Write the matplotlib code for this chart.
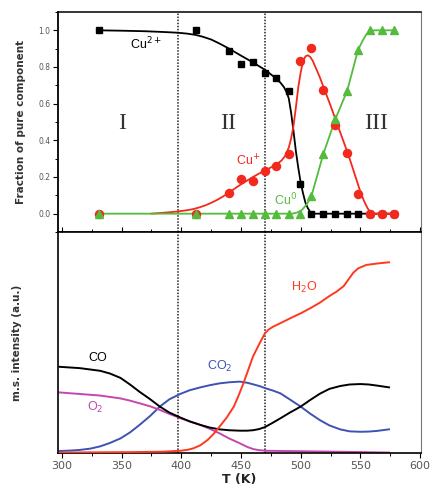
import matplotlib
matplotlib.use("Agg")
import matplotlib.pyplot as plt
from matplotlib.ticker import MultipleLocator

# ---------------- data: top panel (fraction of pure component) ----------------
T_pts = [331, 412, 440, 450, 460, 470, 479, 490, 499.5, 509, 519, 529, 539, 548, 558, 568, 578]
cu2_pts = [1.0, 1.0, 0.886, 0.814, 0.825, 0.765, 0.741, 0.671, 0.163, 0.0, 0.0, 0.0, 0.0, 0.0, 0.0, 0.0, 0.0]
cu1_pts = [0.0, 0.0, 0.114, 0.19, 0.177, 0.235, 0.259, 0.327, 0.832, 0.904, 0.675, 0.485, 0.331, 0.108, 0.0, 0.0, 0.0]
cu0_pts = [0.0, 0.0, 0.0, 0.0, 0.0, 0.0, 0.0, 0.0, 0.0, 0.096, 0.326, 0.515, 0.671, 0.892, 1.0, 1.0, 1.0]

# fitted curves
cu2_fit_T = [331, 350, 370, 385, 397, 405, 412, 418, 425, 432, 440, 450, 460, 470, 478, 483, 486, 488,
             490, 492, 494, 496, 498, 500, 502, 504, 506, 508, 511, 578]
cu2_fit_v = [1.0, 0.998, 0.995, 0.991, 0.987, 0.982, 0.975, 0.965, 0.95, 0.928, 0.9, 0.862, 0.825, 0.785,
             0.745, 0.715, 0.69, 0.665, 0.63, 0.55, 0.45, 0.34, 0.25, 0.17, 0.11, 0.06, 0.03, 0.01, 0.0, 0.0]
cu1_fit_T = [375, 387, 397, 405, 410, 415, 420, 425, 430, 435, 440, 445, 450, 455, 460, 465, 470, 475, 480,
             484, 487, 490, 492, 494, 496, 498, 500, 502, 504, 506, 508, 510, 513, 516, 520, 525, 530, 535,
             540, 545, 550, 553, 556, 558, 560, 578]
cu1_fit_v = [0.0, 0.006, 0.012, 0.019, 0.025, 0.034, 0.045, 0.059, 0.075, 0.094, 0.115, 0.138, 0.16, 0.18,
             0.2, 0.218, 0.235, 0.252, 0.27, 0.29, 0.315, 0.36, 0.41, 0.48, 0.58, 0.69, 0.77, 0.83, 0.858,
             0.864, 0.855, 0.835, 0.79, 0.745, 0.675, 0.59, 0.5, 0.41, 0.32, 0.22, 0.12, 0.07, 0.03, 0.012,
             0.0, 0.0]
cu0_fit_T = [331, 493, 497, 501, 505, 509, 519, 529, 539, 548, 552, 555, 558, 562, 578]
cu0_fit_v = [0.0, 0.0, 0.006, 0.02, 0.05, 0.096, 0.326, 0.515, 0.671, 0.892, 0.945, 0.978, 0.995, 1.0, 1.0]

# ---------------- data: bottom panel (m.s. intensity, a.u.) ----------------
co_T = [298, 315, 332, 340, 349, 357, 365, 374, 382, 390, 399, 407, 416, 424, 432, 440, 449, 455, 460,
        465, 470, 476, 483, 491, 500, 508, 516, 524, 533, 541, 550, 557, 564, 574]
co_v = [0.39, 0.384, 0.372, 0.36, 0.34, 0.31, 0.277, 0.243, 0.21, 0.183, 0.161, 0.143, 0.127, 0.115,
        0.107, 0.103, 0.101, 0.101, 0.103, 0.108, 0.117, 0.135, 0.157, 0.183, 0.21, 0.24, 0.268, 0.29,
        0.303, 0.31, 0.312, 0.31, 0.305, 0.297]
co2_T = [298, 307, 315, 324, 332, 340, 349, 357, 365, 374, 382, 390, 399, 407, 416, 424, 432, 440, 449,
         455, 460, 466, 471, 477, 483, 491, 500, 508, 516, 524, 533, 541, 550, 557, 564, 574]
co2_v = [0.009, 0.011, 0.014, 0.02, 0.03, 0.045, 0.066, 0.093, 0.127, 0.168, 0.21, 0.243, 0.267, 0.284,
         0.297, 0.307, 0.315, 0.32, 0.323, 0.318, 0.311, 0.302, 0.292, 0.282, 0.27, 0.242, 0.21, 0.178,
         0.149, 0.125, 0.107, 0.098, 0.096, 0.097, 0.1, 0.107]
o2_T = [298, 315, 332, 349, 357, 365, 374, 382, 390, 399, 407, 416, 424, 432, 440, 449, 455, 460, 465,
        471, 500, 540, 574]
o2_v = [0.274, 0.267, 0.26, 0.247, 0.237, 0.225, 0.211, 0.195, 0.177, 0.158, 0.143, 0.127, 0.109, 0.089,
        0.066, 0.044, 0.028, 0.018, 0.013, 0.01, 0.008, 0.005, 0.002]
h2o_T = [298, 359, 385, 399, 405, 410, 416, 422, 427, 432, 438, 444, 448, 452, 456, 460, 465, 470, 473,
         477, 484, 491, 500, 508, 516, 524, 530, 536, 540, 544, 548, 555, 565, 574]
h2o_v = [0.002, 0.004, 0.006, 0.01, 0.014, 0.021, 0.035, 0.059, 0.086, 0.119, 0.16, 0.21, 0.26, 0.315,
         0.375, 0.436, 0.49, 0.541, 0.558, 0.572, 0.59, 0.609, 0.632, 0.655, 0.68, 0.71, 0.73, 0.755,
         0.785, 0.815, 0.835, 0.851, 0.858, 0.863]

region_bounds = [397, 470]
region_labels = ["I", "II", "III"]
region_label_T = [350, 439, 563]
xticks = [300, 350, 400, 450, 500, 550, 600]

# ---------------- styles ----------------
BLACK = "#000000"
RED = "#f2291c"
GREEN = "#55bb3c"
BLUE = "#3d52b4"
MAG = "#c447ad"
H2O_RED = "#ff3820"
TICKC = "#555555"

plt.rcParams['font.family'] = ['DejaVu Sans']

fig = plt.figure(figsize=(4.30, 4.91), dpi=100)
L, R = 58 / 430, 421 / 430
ax1 = fig.add_axes([L, 1 - 232 / 491, R - L, (232 - 12) / 491])
ax2 = fig.add_axes([L, 1 - 453 / 491, R - L, (453 - 232) / 491])

xlim = (296.7, 600.8)

# ---- top panel ----
ax1.plot(cu2_fit_T, cu2_fit_v, color=BLACK, lw=1.3, zorder=2)
ax1.plot(cu1_fit_T, cu1_fit_v, color=RED, lw=1.3, zorder=2)
ax1.plot(cu0_fit_T, cu0_fit_v, color=GREEN, lw=1.3, zorder=2)
ax1.plot(T_pts, cu2_pts, ls="none", marker="s", ms=5, color=BLACK, zorder=3)
ax1.plot(T_pts, cu1_pts, ls="none", marker="o", ms=5.8, color=RED, zorder=4)
ax1.plot(T_pts, cu0_pts, ls="none", marker="^", ms=5.5, color=GREEN, zorder=5)

ax1.text(370, 0.925, r"Cu$^{2+}$", color=BLACK, fontsize=9, ha="center", va="center",
         family="Liberation Sans")
ax1.text(456, 0.285, r"Cu$^{+}$", color=RED, fontsize=9, ha="center", va="center",
         family="Liberation Sans")
ax1.text(487, 0.075, r"Cu$^{0}$", color=GREEN, fontsize=9, ha="center", va="center",
         family="Liberation Sans")
for lab, tx in zip(region_labels, region_label_T):
    ax1.text(tx, 0.49, lab, fontsize=17, family="Liberation Serif", color="#333333",
             ha="center", va="center")

ax1.set_xlim(*xlim)
ax1.set_ylim(-0.1, 1.1)
ax1.set_yticks([0.0, 0.2, 0.4, 0.6, 0.8, 1.0])
ax1.set_yticklabels(["0.0", "0.2", "0.4", "0.6", "0.8", "1.0"])
ax1.yaxis.set_minor_locator(MultipleLocator(0.1))
ax1.tick_params(axis="y", which="both", direction="out", left=True, right=False,
                labelsize=5.5, labelcolor=TICKC, pad=2)
ax1.tick_params(axis="y", which="major", length=3.5, width=0.8)
ax1.tick_params(axis="y", which="minor", length=2, width=0.7)
ax1.tick_params(axis="x", which="both", bottom=False, top=False, labelbottom=False)
ax1.set_ylabel("Fraction of pure component", fontsize=7.5, fontweight="bold",
               color="#333333", labelpad=9)
ax1.spines["left"].set_linewidth(1.3)
ax1.spines["top"].set_linewidth(1.1)
ax1.spines["bottom"].set_linewidth(1.1)
ax1.spines["right"].set_linewidth(0.8)
ax1.spines["right"].set_color("#777777")

# ---- bottom panel ----
ax2.plot(co2_T, co2_v, color=BLUE, lw=1.4, zorder=2)
ax2.plot(co_T, co_v, color=BLACK, lw=1.4, zorder=3)
ax2.plot(o2_T, o2_v, color=MAG, lw=1.4, zorder=2)
ax2.plot(h2o_T, h2o_v, color=H2O_RED, lw=1.4, zorder=4)

ax2.text(330, 0.43, "CO", color=BLACK, fontsize=9, ha="center", va="center",
         family="Liberation Sans")
ax2.text(432, 0.39, r"CO$_2$", color=BLUE, fontsize=9, ha="center", va="center",
         family="Liberation Sans")
ax2.text(328, 0.205, r"O$_2$", color=MAG, fontsize=9, ha="center", va="center",
         family="Liberation Sans")
ax2.text(503, 0.75, r"H$_2$O", color=H2O_RED, fontsize=9, ha="center", va="center",
         family="Liberation Sans")

ax2.set_xlim(*xlim)
ax2.set_ylim(0, 1)
ax2.set_yticks([])
ax2.set_xticks(xticks)
ax2.xaxis.set_minor_locator(MultipleLocator(25))
ax2.tick_params(axis="x", which="both", direction="out", bottom=True, top=True,
                labelsize=8, labelcolor=TICKC, pad=2)
ax2.tick_params(axis="x", which="major", length=3.5, width=0.8)
ax2.tick_params(axis="x", which="minor", length=2, width=0.7)
ax2.set_xlabel("T (K)", fontsize=9, fontweight="bold", color="#222222", labelpad=2)
ax2.set_ylabel("m.s. intensity (a.u.)", fontsize=7.5, fontweight="bold",
               color="#333333", labelpad=26)
for s in ax2.spines.values():
    s.set_linewidth(1.2)
ax2.spines["right"].set_linewidth(0.8)
ax2.spines["right"].set_color("#777777")

# ---- region boundaries ----
for ax in (ax1, ax2):
    for b in region_bounds:
        ax.axvline(b, color="#222222", ls=(0, (1, 1)), lw=1.1, zorder=1)

fig.savefig("out.png", dpi=100)
